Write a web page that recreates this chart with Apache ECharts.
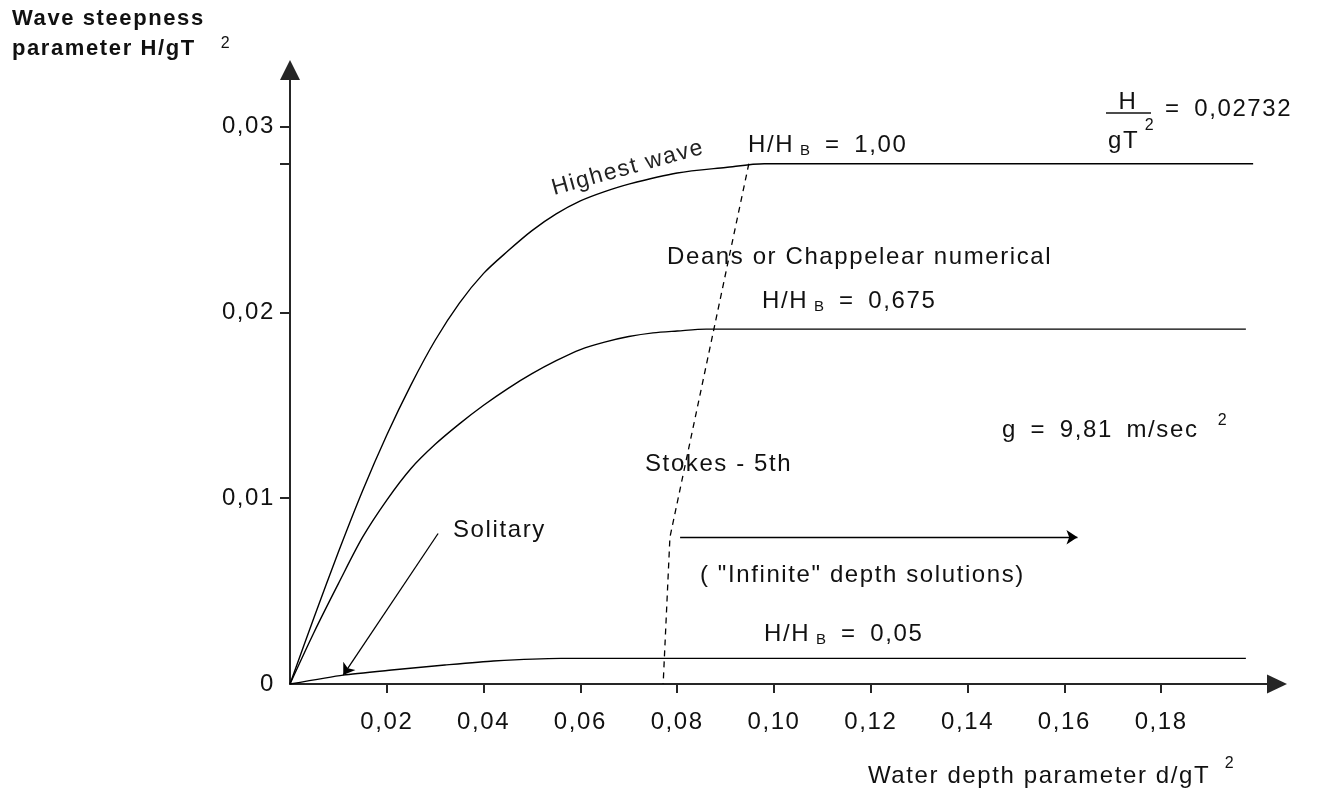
<!DOCTYPE html>
<html>
<head>
<meta charset="utf-8">
<script src="https://cdn.jsdelivr.net/npm/echarts@6/dist/echarts.min.js"></script>
<style>
html,body{margin:0;padding:0;background:#fff;}
#chart{width:1320px;height:794px;}
</style>
</head>
<body>
<div id="chart"></div>
<script>
// widen tracking of all canvas text (reference uses a widely tracked sans face)
(function () {
  var LS = '1.6px';
  var P = CanvasRenderingContext2D.prototype;
  ['fillText', 'strokeText', 'measureText'].forEach(function (k) {
    var orig = P[k];
    P[k] = function () {
      try { if ('letterSpacing' in this) this.letterSpacing = LS; } catch (e) {}
      return orig.apply(this, arguments);
    };
  });
})();

// ---------------- data ----------------
var xTickValues = [0.02, 0.04, 0.06, 0.08, 0.10, 0.12, 0.14, 0.16, 0.18];
var yLabelValues = [0, 0.01, 0.02, 0.03];
var yTickValues = [0.01, 0.02, 0.028, 0.03];

// H/HB = 1,00 (highest wave)
var highestWave = [
  [0, 0], [0.005, 0.0036], [0.010, 0.0071], [0.015, 0.0104], [0.020, 0.0134],
  [0.025, 0.0161], [0.030, 0.0185], [0.035, 0.0205], [0.040, 0.0221],
  [0.045, 0.0233], [0.050, 0.0244], [0.055, 0.0253], [0.060, 0.0260],
  [0.065, 0.0265], [0.070, 0.0269], [0.080, 0.0275], [0.090, 0.0278],
  [0.098, 0.0280], [0.110, 0.0280], [0.199, 0.0280]
];
// H/HB = 0,675
var ratio0675 = [
  [0, 0], [0.005, 0.0028], [0.010, 0.0054], [0.015, 0.0079], [0.020, 0.0099],
  [0.025, 0.0116], [0.030, 0.0129], [0.035, 0.0140], [0.040, 0.0150],
  [0.045, 0.0159], [0.050, 0.0167], [0.055, 0.0174], [0.060, 0.0180],
  [0.065, 0.0184], [0.070, 0.0187], [0.075, 0.0189], [0.080, 0.0190],
  [0.086, 0.0191], [0.100, 0.0191], [0.1975, 0.0191]
];
// H/HB = 0,05
var ratio005 = [
  [0, 0], [0.011, 0.00048], [0.021, 0.00075], [0.032, 0.00102],
  [0.042, 0.00124], [0.056, 0.00138], [0.070, 0.00138], [0.1975, 0.00138]
];
// Stokes-5th / numerical boundary (dashed)
var stokesLimit = [[0.0948, 0.0280], [0.0785, 0.0079], [0.0771, 0]];
// annotation arrows
var solitaryArrow = [[0.0306, 0.0081], [0.0110, 0.00048]];
var infiniteArrow = [[0.0806, 0.0079], [0.1627, 0.0079]];

// ---------------- chart ----------------
var FONT = "'Liberation Sans', Arial, Helvetica, sans-serif";
var INK = '#111';
var AXIS = '#262626';
var SP = '\u2002';
function fmt(v) { return v === 0 ? '0' : v.toFixed(2).replace('.', ','); }

var chart = echarts.init(document.getElementById('chart'), null, { renderer: 'canvas' });

function txt(x, y, text, opt) {
  opt = opt || {};
  return {
    type: 'text', x: x, y: y, rotation: opt.rotation || 0, silent: true,
    style: {
      text: text, fill: opt.fill || INK,
      fontSize: opt.fontSize || 24, fontFamily: FONT, fontWeight: opt.fontWeight || 'normal',
      align: opt.align || 'left', verticalAlign: 'middle',
      textAlign: opt.align || 'left', textVerticalAlign: 'middle',
      rich: opt.rich
    }
  };
}
var richHB = {
  m: { fontSize: 24, lineHeight: 28, fontFamily: FONT, color: INK },
  s: { fontSize: 15, lineHeight: 18, fontFamily: FONT, color: INK, verticalAlign: 'bottom' }
};

var option = {
  animation: false,
  backgroundColor: '#ffffff',
  grid: { left: 290, right: 43, top: 70, bottom: 110 },
  xAxis: {
    type: 'value', min: 0, max: 0.20393, position: 'bottom',
    splitLine: { show: false },
    axisLine: {
      show: true, onZero: false, symbol: ['none', 'triangle'], symbolSize: [19, 20],
      lineStyle: { color: AXIS, width: 2 }
    },
    axisTick: { show: true, customValues: xTickValues, length: 9, inside: false,
      lineStyle: { color: AXIS, width: 2 } },
    axisLabel: { show: true, customValues: xTickValues, formatter: fmt, margin: 26,
      fontSize: 24, fontFamily: FONT, color: INK }
  },
  yAxis: {
    type: 'value', min: 0, max: 0.033046,
    splitLine: { show: false },
    axisLine: {
      show: true, onZero: false, symbol: ['none', 'triangle'], symbolSize: [20, 20],
      lineStyle: { color: AXIS, width: 2 }
    },
    axisTick: { show: true, customValues: yTickValues, length: 10, inside: false,
      lineStyle: { color: AXIS, width: 2 } },
    axisLabel: { show: true, customValues: yLabelValues, formatter: fmt, margin: 15,
      fontSize: 24, fontFamily: FONT, color: INK }
  },
  series: [
    { type: 'line', name: 'H/HB = 1,00', data: highestWave, showSymbol: false, smooth: 0.3,
      lineStyle: { color: '#000', width: 1.4 } },
    { type: 'line', name: 'H/HB = 0,675', data: ratio0675, showSymbol: false, smooth: 0.3,
      lineStyle: { color: '#000', width: 1.4 } },
    { type: 'line', name: 'H/HB = 0,05', data: ratio005, showSymbol: false, smooth: 0.2,
      lineStyle: { color: '#000', width: 1.4 } },
    { type: 'line', name: 'Stokes limit', data: stokesLimit, showSymbol: false, smooth: false,
      lineStyle: { color: '#000', width: 1.3, type: [6, 5] } },
    { type: 'lines', coordinateSystem: 'cartesian2d', symbol: ['none', 'arrow'], symbolSize: 11,
      lineStyle: { color: '#000', width: 1.3, curveness: 0, opacity: 1 },
      data: [{ coords: solitaryArrow }, { coords: infiniteArrow }] }
  ],
  graphic: [
    txt(12, 19, 'Wave steepness', { fontSize: 22, fontWeight: 'bold' }),
    txt(12, 49, 'parameter H/gT', { fontSize: 22, fontWeight: 'bold' }),
    txt(226, 44, '2', { fontSize: 16, align: 'center' }),
    txt(628, 168, 'Highest wave', { fontSize: 23, align: 'center', rotation: 0.27, fill: '#222' }),
    txt(748, 145, '{m|H/H}{s| B}{m|' + SP + '=' + SP + '1,00}', { rich: richHB }),
    txt(667, 257, 'Deans or Chappelear numerical'),
    txt(762, 301, '{m|H/H}{s| B}{m|' + SP + '=' + SP + '0,675}', { rich: richHB }),
    txt(645, 464, 'Stokes - 5th'),
    txt(1002, 430, 'g' + SP + '=' + SP + '9,81' + SP + 'm/sec'),
    txt(1223, 421, '2', { fontSize: 16, align: 'center' }),
    txt(453, 530, 'Solitary'),
    txt(700, 575, '( "Infinite" depth solutions)'),
    txt(764, 634, '{m|H/H}{s| B}{m|' + SP + '=' + SP + '0,05}', { rich: richHB }),
    txt(868, 776, 'Water depth parameter d/gT'),
    txt(1230, 764, '2', { fontSize: 16, align: 'center' }),
    txt(1128, 102, 'H', { align: 'center' }),
    { type: 'line', silent: true, shape: { x1: 1106, y1: 113, x2: 1151, y2: 113 },
      style: { stroke: INK, lineWidth: 1.5 } },
    txt(1108, 141, 'gT'),
    txt(1150, 126, '2', { fontSize: 16, align: 'center' }),
    txt(1165, 109, '=' + SP + '0,02732')
  ]
};
chart.setOption(option);
</script>
</body>
</html>
